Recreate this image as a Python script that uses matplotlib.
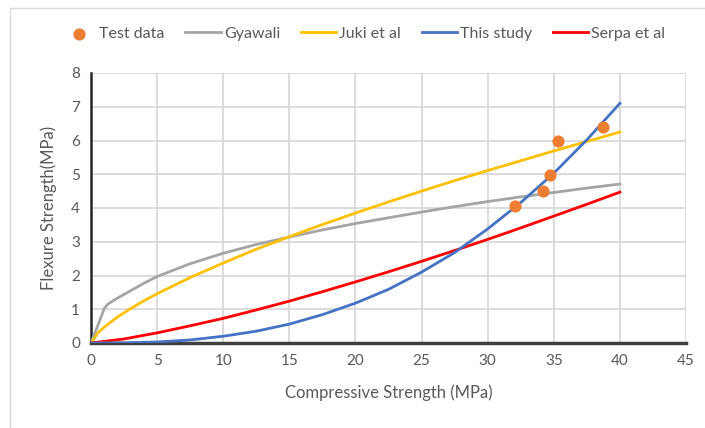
import matplotlib.pyplot as plt
from matplotlib.patches import Rectangle

plt.rcParams['font.family'] = ['Lato', 'DejaVu Sans']

# test data points
test_x = [32.1, 34.2, 34.7, 35.3, 38.7]
test_y = [4.05, 4.5, 4.98, 6.0, 6.4]

# model curves
gyawali_x = [0, 0.5, 1.0, 1.3, 2, 3, 4, 5, 7.5, 10, 12.5, 15, 17.5, 20, 22.5, 25, 27.5, 30, 32.5, 35, 37.5, 40]
gyawali_y = [0, 0.5, 1.02, 1.16, 1.33, 1.55, 1.77, 1.97, 2.35, 2.66, 2.92, 3.14, 3.35, 3.54, 3.71, 3.88, 4.04,
             4.19, 4.33, 4.46, 4.59, 4.71]

juki_x = [0, 0.25, 0.5, 1, 1.5, 2, 3, 4, 5, 7.5, 10, 12.5, 15, 17.5, 20, 22.5, 25, 27.5, 30, 32.5, 35, 37.5, 40]
juki_y = [0, 0.14, 0.29, 0.47, 0.62, 0.77, 1.02, 1.25, 1.46, 1.94, 2.37, 2.78, 3.15, 3.51, 3.85, 4.18, 4.5, 4.81,
          5.11, 5.4, 5.69, 5.97, 6.25]

study_x = [0, 2.5, 5, 7.5, 10, 12.5, 15, 17.5, 20, 22.5, 25, 27.5, 30, 32.5, 35, 37.5, 40]
study_y = [0, 0.005, 0.03, 0.09, 0.2, 0.35, 0.56, 0.84, 1.18, 1.59, 2.1, 2.68, 3.38, 4.16, 5.03, 6.02, 7.1]

serpa_x = [0, 2.5, 5, 7.5, 10, 12.5, 15, 17.5, 20, 22.5, 25, 27.5, 30, 32.5, 35, 37.5, 40]
serpa_y = [0, 0.12, 0.3, 0.51, 0.73, 0.98, 1.24, 1.52, 1.81, 2.11, 2.42, 2.74, 3.07, 3.41, 3.76, 4.11, 4.47]

x_ticks = [0, 5, 10, 15, 20, 25, 30, 35, 40, 45]
y_ticks = [0, 1, 2, 3, 4, 5, 6, 7, 8]

txt = '#595959'
grid = '#d9d9d9'

fig = plt.figure(figsize=(7.05, 4.28), dpi=100)
fig.patches.append(Rectangle((10/705, -0.01), 1.0, 1 - 8/428 + 0.01, transform=fig.transFigure,
                             fill=False, edgecolor=grid, linewidth=1.0))
ax = fig.add_axes([91/705, 1 - 343/428, 595/705, 270/428])

ax.plot(gyawali_x, gyawali_y, color='#a5a5a5', lw=2.0, label='Gyawali', zorder=3)
ax.plot(juki_x, juki_y, color='#ffc000', lw=2.0, label='Juki et al', zorder=3)
ax.plot(study_x, study_y, color='#4472c4', lw=2.0, label='This study', zorder=4)
ax.plot(serpa_x, serpa_y, color='#ff0000', lw=2.0, label='Serpa et al', zorder=3)
ax.scatter(test_x, test_y, s=60, color='#ed7d31', zorder=5, label='Test data')

ax.set_xlim(0, 45)
ax.set_ylim(0, 8)
ax.set_xticks(x_ticks)
ax.set_yticks(y_ticks)
ax.grid(True, color=grid, lw=1.3)
ax.set_axisbelow(True)
for s in ['top', 'right']:
    ax.spines[s].set_visible(False)
ax.spines['left'].set_color('#262626')
ax.spines['left'].set_linewidth(1.8)
ax.spines['bottom'].set_color('#404040')
ax.spines['bottom'].set_linewidth(2.5)
ax.tick_params(length=0, colors=txt, labelsize=11, pad=8)

ax.set_xlabel('Compressive Strength (MPa)', color=txt, fontsize=12, labelpad=12)
ax.set_ylabel('Flexure Strength(MPa)', color=txt, fontsize=12, labelpad=10)

h, l = ax.get_legend_handles_labels()
order = [4, 0, 1, 2, 3]
fig.legend([h[i] for i in order], [l[i] for i in order], loc='center', bbox_to_anchor=(0.515, 1 - 34/428),
           ncol=5, frameon=False, fontsize=11.5, labelcolor=txt, handlelength=2.2,
           handletextpad=0.2, columnspacing=1.3)

plt.savefig('out.png', dpi=100)
